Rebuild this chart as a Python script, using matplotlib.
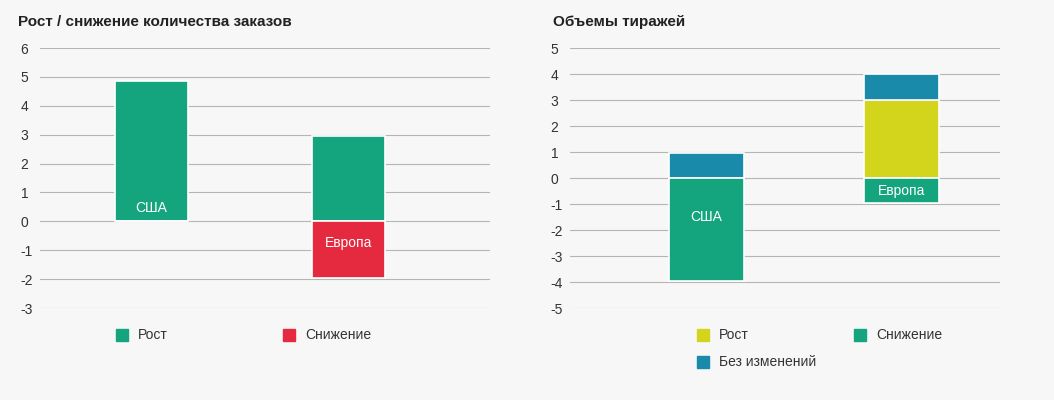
import matplotlib
matplotlib.use("Agg")
import matplotlib.pyplot as plt
from matplotlib.patches import Rectangle

plt.rcParams['font.family'] = ['Liberation Sans', 'DejaVu Sans']

GREEN = '#14a57e'; RED = '#e5293f'; YELLOW = '#d3d41c'; BLUE = '#1a8aab'
BG = '#f7f7f7'

left_title = 'Рост / снижение количества заказов'
left_cats = ['США', 'Европа']
left_growth = [4.85, 2.95]
left_decline = [0, -1.95]

right_title = 'Объемы тиражей'
right_cats = ['США', 'Европа']
right_growth = [0, 3.0]
right_same = [0.95, 1.0]
right_decline = [-3.95, -0.95]

fig = plt.figure(figsize=(10.54, 4.0), dpi=100, facecolor=BG)

def setup(ax, lo, hi):
    ax.set_facecolor(BG)
    ax.set_ylim(lo, hi)
    ax.set_xlim(0, 1)
    for s in ax.spines.values():
        s.set_visible(False)
    ax.set_yticks(range(lo, hi + 1))
    ax.set_yticklabels([str(v) for v in range(lo, hi + 1)], fontsize=10, color='#333333', ha='left')
    ax.tick_params(length=0, pad=14)
    for v in range(lo, hi + 1):
        ax.axhline(v, color='#b5b5b5', lw=0.8, zorder=0)
    ax.set_xticks([])

axL = fig.add_axes([40/1054, 0.23, 450/1054, 0.65])
setup(axL, -3, 6)
xl = [0.248, 0.686]; wl = 0.162
axL.bar(xl, left_growth, width=wl, color=GREEN, edgecolor='white', lw=1.2, zorder=2)
axL.bar(xl, left_decline, width=wl, color=RED, edgecolor='white', lw=1.2, zorder=2)
axL.text(xl[0], 0.45, left_cats[0], color='white', ha='center', va='center', fontsize=10, zorder=3)
axL.text(xl[1], -0.75, left_cats[1], color='white', ha='center', va='center', fontsize=10, zorder=3)

axR = fig.add_axes([570/1054, 0.23, 430/1054, 0.65])
setup(axR, -5, 5)
xr = [0.317, 0.77]; wr = 0.174
axR.bar(xr, right_growth, width=wr, color=YELLOW, edgecolor='white', lw=1.2, zorder=2)
axR.bar(xr, right_same, bottom=right_growth, width=wr, color=BLUE, edgecolor='white', lw=1.2, zorder=2)
axR.bar(xr, right_decline, width=wr, color=GREEN, edgecolor='white', lw=1.2, zorder=2)
axR.text(xr[0], -1.5, right_cats[0], color='white', ha='center', va='center', fontsize=10, zorder=3)
axR.text(xr[1], -0.5, right_cats[1], color='white', ha='center', va='center', fontsize=10, zorder=3)

fig.text(18/1054, 1 - 22/400, left_title, fontsize=11, fontweight='bold', va='center', color='#222222')
fig.text(553/1054, 1 - 22/400, right_title, fontsize=11, fontweight='bold', va='center', color='#222222')

def leg(x, y, color, label):
    fig.patches.append(Rectangle((x/1054, 1 - (y + 6)/400), 12/1054, 12/400,
                                 transform=fig.transFigure, color=color))
    fig.text((x + 22)/1054, 1 - y/400, label, fontsize=10, va='center', color='#333333')

leg(116, 335, GREEN, 'Рост')
leg(283, 335, RED, 'Снижение')
leg(697, 335, YELLOW, 'Рост')
leg(854, 335, GREEN, 'Снижение')
leg(697, 362, BLUE, 'Без изменений')

fig.savefig('out.png', dpi=100, facecolor=BG)
